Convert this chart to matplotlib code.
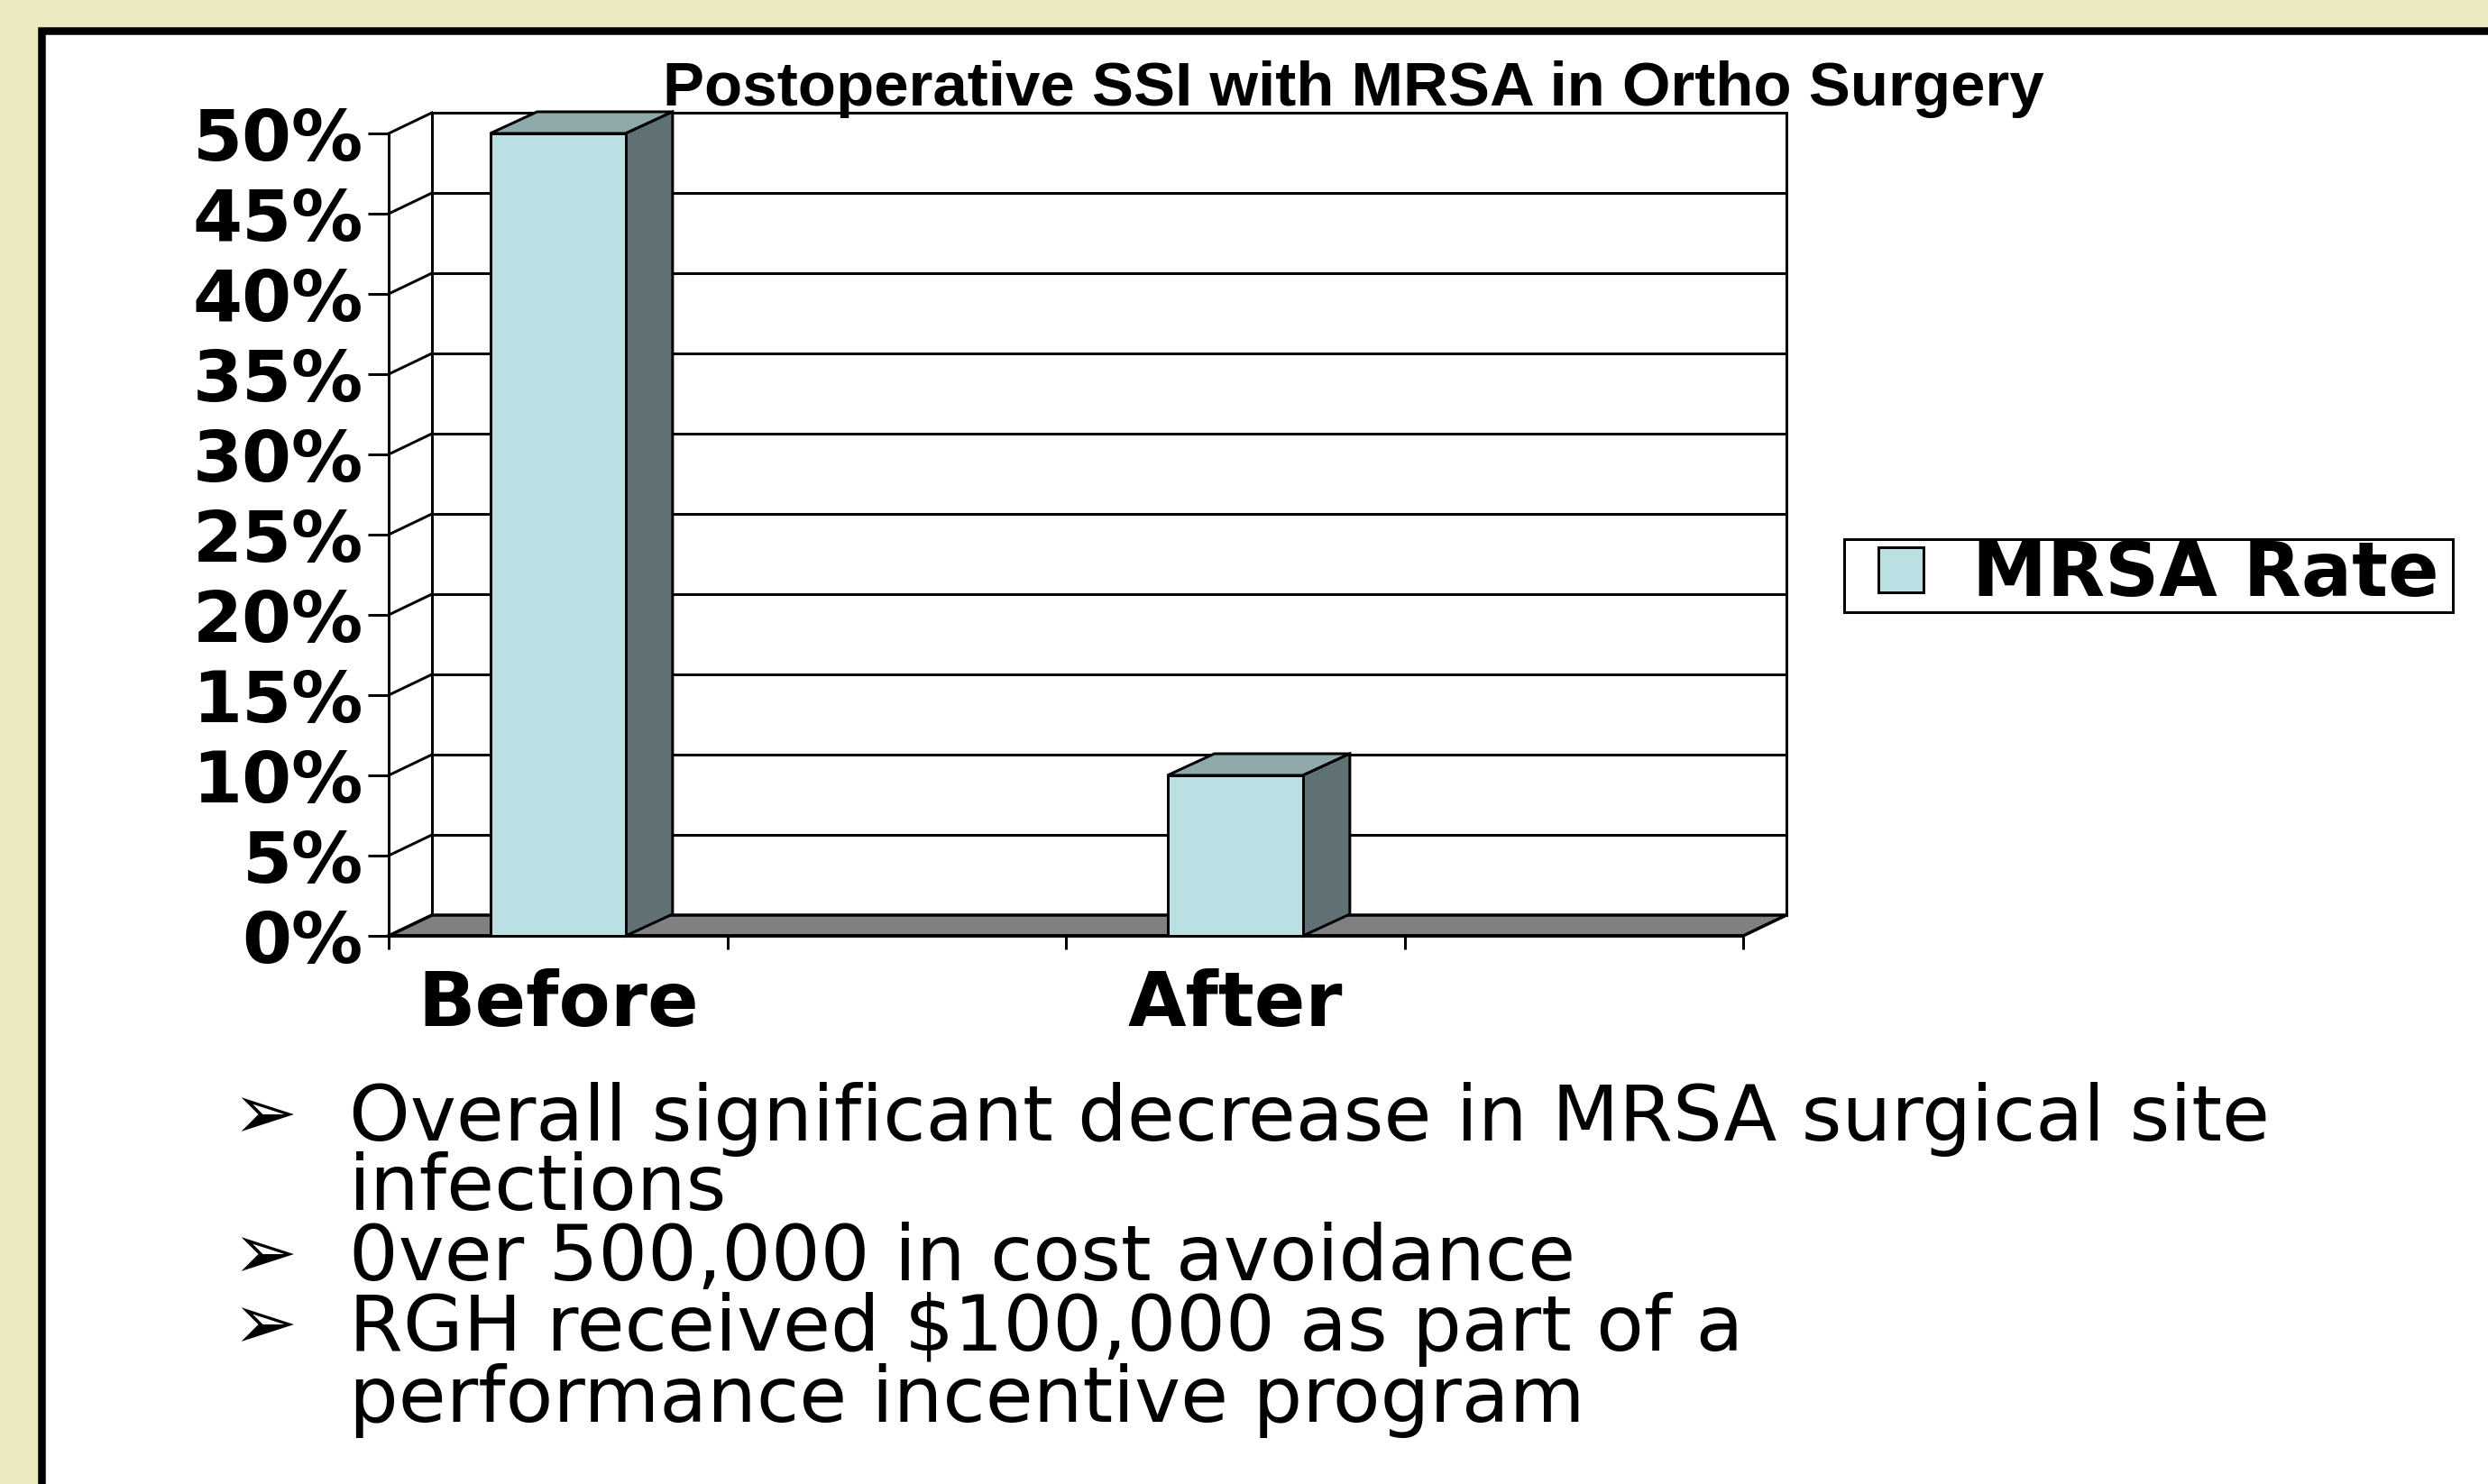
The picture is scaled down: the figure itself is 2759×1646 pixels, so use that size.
import numpy as np
import matplotlib
matplotlib.use('Agg')
import matplotlib.pyplot as plt
from matplotlib.patches import Rectangle, Polygon
from matplotlib.lines import Line2D

# ---------------- data ----------------
categories = ['Before', '', 'After', '']
mrsa_rate = [0.50, None, 0.10, None]
ytick_values = [0.00, 0.05, 0.10, 0.15, 0.20, 0.25, 0.30, 0.35, 0.40, 0.45, 0.50]
ytick_labels = ['0%', '5%', '10%', '15%', '20%', '25%', '30%', '35%', '40%', '45%', '50%']
chart_title = 'Postoperative SSI with MRSA in Ortho Surgery'
legend_label = 'MRSA Rate'
bullet_lines = [
    'Overall significant decrease in MRSA surgical site',
    'infections',
    '0ver 500,000 in cost avoidance',
    'RGH received $100,000 as part of a',
    'performance incentive program',
]
bullet_marks = [True, False, True, True, False]

# ---------------- layout ----------------
W, H = 2759, 1646
DPI = 100
PT = 72.0 / DPI  # points per pixel

fig = plt.figure(figsize=(W / DPI, H / DPI), dpi=DPI)
fig.patch.set_facecolor('#EBE9C0')

def fx(px):
    return px / W

def fy(py):
    return 1 - py / H

# white slide panel with thick black border
panel = Rectangle((fx(45.5), -0.2), 1.5, fy(34) + 0.2, transform=fig.transFigure,
                  facecolor='white', edgecolor='black', linewidth=8.5 * PT, zorder=-5)
fig.patches.append(panel)

# front plane of the 3D chart
L, R, T, B = 431, 1933, 148, 1038
ax = fig.add_axes([fx(L), fy(B), (R - L) / W, (B - T) / H])
ax.set_zorder(2)
ax.set_xlim(-0.5, 3.5)
ax.set_ylim(0, 0.5)
ax.patch.set_alpha(0)

xspan, yspan = 4.0, 0.5
DX = 48 * xspan / (R - L)
DY = 23 * yspan / (B - T)
BDX = 52 * xspan / (R - L)
BDY = 24 * yspan / (B - T)

LW = 3 * PT
x0, x1 = -0.5, 3.5

# back wall gridlines and side wall diagonals
for v in ytick_values:
    ax.plot([x0 + DX, x1 + DX], [v + DY, v + DY], color='black', lw=LW, clip_on=False, zorder=1)
    ax.plot([x0, x0 + DX], [v, v + DY], color='black', lw=LW, clip_on=False, zorder=1)
ax.plot([x0 + DX, x0 + DX], [DY, ytick_values[-1] + DY], color='black', lw=LW, clip_on=False, zorder=1)
ax.plot([x1 + DX, x1 + DX], [DY, ytick_values[-1] + DY], color='black', lw=LW, clip_on=False, zorder=1)

# floor
floor = Polygon([(x0, 0), (x1, 0), (x1 + DX, DY), (x0 + DX, DY)], closed=True,
                facecolor='#808080', edgecolor='black', lw=3.5 * PT, clip_on=False, zorder=2)
ax.add_patch(floor)

# bars
front_c, top_c, side_c = '#BBE0E3', '#8FA9AB', '#5F7174'
bw = 0.4
xs = [i for i, v in enumerate(mrsa_rate) if v is not None]
vals = [v for v in mrsa_rate if v is not None]
ax.bar(xs, vals, width=bw, color=front_c, edgecolor='black', linewidth=LW, zorder=5, clip_on=False)
for x, v in zip(xs, vals):
    top = Polygon([(x - bw / 2, v), (x + bw / 2, v), (x + bw / 2 + BDX, v + BDY), (x - bw / 2 + BDX, v + BDY)],
                  closed=True, facecolor=top_c, edgecolor='black', lw=LW, clip_on=False, zorder=4)
    side = Polygon([(x + bw / 2, 0), (x + bw / 2 + BDX, BDY), (x + bw / 2 + BDX, v + BDY), (x + bw / 2, v)],
                   closed=True, facecolor=side_c, edgecolor='black', lw=LW, clip_on=False, zorder=4)
    ax.add_patch(top)
    ax.add_patch(side)

# axes styling
for s in ['top', 'right']:
    ax.spines[s].set_visible(False)
ax.spines['left'].set_linewidth(LW)
ax.spines['bottom'].set_linewidth(3.5 * PT)
ax.spines['left'].set_zorder(3)

ax.set_yticks(ytick_values)
ax.set_yticklabels(ytick_labels, fontsize=57, fontweight='bold', family='DejaVu Sans')
ax.tick_params(axis='y', direction='out', length=23 * PT, width=LW, pad=5 * PT)

ax.set_xticks(np.arange(-0.5, 3.51, 1.0))
ax.set_xticklabels([])
ax.set_xticks(range(len(categories)), minor=True)
ax.set_xticklabels(categories, minor=True, fontsize=60, fontweight='bold', family='DejaVu Sans')
ax.tick_params(axis='x', which='major', direction='out', length=15 * PT, width=LW)
ax.tick_params(axis='x', which='minor', length=0, pad=36 * PT)

# legend
handle = Line2D([], [], linestyle='none', marker='s', markersize=36,
                markerfacecolor=front_c, markeredgecolor='black', markeredgewidth=LW)
leg = fig.legend([handle], [legend_label], loc='center left',
                 bbox_to_anchor=(fx(2045), fy(684), 675 / W, 92 / H), mode='expand',
                 prop=dict(family='DejaVu Sans', weight='bold', size=60),
                 frameon=True, fancybox=False, edgecolor='black', framealpha=1,
                 borderpad=0.0, handlelength=1.5, handletextpad=0.2, borderaxespad=0)
leg.get_frame().set_linewidth(3 * PT)

# title
fig.text(fx(1501), fy(117), chart_title, ha='center', va='baseline', fontsize=49.7,
         fontweight='bold', family='Liberation Sans')

# bullets
baselines = [1265, 1342, 1420, 1498, 1577]
for line, mark, by in zip(bullet_lines, bullet_marks, baselines):
    fig.text(fx(387), fy(by), line, ha='left', va='baseline', fontsize=62, family='DejaVu Sans')
    if mark:
        fig.text(fx(257), fy(by - 2), '\u27a2', ha='left', va='baseline', fontsize=62, family='DejaVu Sans')

fig.savefig('out.png', dpi=DPI, facecolor=fig.get_facecolor())
